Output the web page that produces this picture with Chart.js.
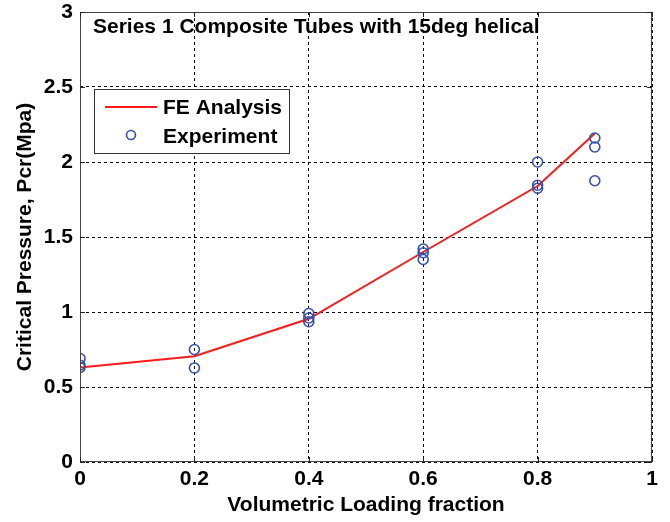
<!DOCTYPE html>
<html>
<head>
<meta charset="utf-8">
<script src="https://cdn.jsdelivr.net/npm/chart.js@4.4.1/dist/chart.umd.min.js"></script>
<style>
  html, body { margin: 0; padding: 0; background: #fff; }
  #wrap { width: 670px; height: 522px; position: relative; }
</style>
</head>
<body>
<div id="wrap"><canvas id="c" width="670" height="522"></canvas></div>
<script>
const chartTitle = 'Series 1 Composite Tubes with 15deg helical';
const xAxisTitle = 'Volumetric Loading fraction';
const yAxisTitle = 'Critical Pressure, Pcr(Mpa)';
const feLabel = 'FE Analysis';
const expLabel = 'Experiment';

const feX = [0, 0.2, 0.4, 0.6, 0.8, 0.9];
const feY = [0.63, 0.705, 0.955, 1.40, 1.84, 2.19];

const expX = [0, 0, 0, 0.2, 0.2, 0.4, 0.4, 0.4, 0.6, 0.6, 0.6, 0.8, 0.8, 0.8, 0.9, 0.9, 0.9];
const expY = [0.69, 0.645, 0.63, 0.75, 0.627, 0.99, 0.96, 0.935, 1.42, 1.395, 1.35, 2.0, 1.845, 1.825, 2.16, 2.10, 1.875];

const xTicks = [0, 0.2, 0.4, 0.6, 0.8, 1];
const yTicks = [0, 0.5, 1, 1.5, 2, 2.5, 3];

const FONT = "'Liberation Sans', Arial, sans-serif";
const FS = 21;
const RED = '#ff1a1a';
const BLUE = '#3350b0';

const feData = feX.map((x, i) => ({ x, y: feY[i] }));
const expData = expX.map((x, i) => ({ x, y: expY[i] }));

const overlay = {
  id: 'overlay',
  afterDraw(chart) {
    const { ctx, chartArea: a } = chart;
    ctx.save();
    // frame
    ctx.strokeStyle = '#444';
    ctx.lineWidth = 1;
    ctx.setLineDash([]);
    ctx.strokeRect(a.left + 0.5, a.top + 0.5, a.right - a.left - 1, a.bottom - a.top - 1);
    // small inward tick marks (MATLAB style)
    ctx.strokeStyle = '#222';
    const xs = chart.scales.x, ys = chart.scales.y;
    ctx.beginPath();
    xTicks.forEach(v => {
      const px = Math.round(xs.getPixelForValue(v)) + 0.5;
      ctx.moveTo(px, a.bottom); ctx.lineTo(px, a.bottom - 5);
      ctx.moveTo(px, a.top); ctx.lineTo(px, a.top + 5);
    });
    yTicks.forEach(v => {
      const py = Math.round(ys.getPixelForValue(v)) + 0.5;
      ctx.moveTo(a.left, py); ctx.lineTo(a.left + 5, py);
      ctx.moveTo(a.right, py); ctx.lineTo(a.right - 5, py);
    });
    ctx.stroke();
    // title inside plot
    ctx.fillStyle = '#000';
    ctx.font = 'bold ' + FS + 'px ' + FONT;
    ctx.textBaseline = 'middle';
    ctx.textAlign = 'left';
    ctx.fillText(chartTitle, a.left + 13, a.top + 15);
    // legend box
    const lx = a.left + 14, ly = a.top + 77, lw = 195, lh = 64;
    ctx.fillStyle = '#fff';
    ctx.fillRect(lx, ly, lw, lh);
    ctx.strokeStyle = '#333';
    ctx.lineWidth = 1;
    ctx.strokeRect(lx + 0.5, ly + 0.5, lw, lh);
    ctx.strokeStyle = RED;
    ctx.lineWidth = 2;
    ctx.beginPath();
    ctx.moveTo(lx + 11, ly + 18);
    ctx.lineTo(lx + 63, ly + 18);
    ctx.stroke();
    ctx.strokeStyle = BLUE;
    ctx.lineWidth = 1.6;
    ctx.beginPath();
    ctx.arc(lx + 37, ly + 46, 4.5, 0, Math.PI * 2);
    ctx.stroke();
    ctx.fillStyle = '#000';
    ctx.font = 'bold ' + FS + 'px ' + FONT;
    ctx.fillText(feLabel, lx + 69, ly + 19);
    ctx.fillText(expLabel, lx + 69, ly + 48);
    ctx.restore();
  }
};

new Chart(document.getElementById('c'), {
  type: 'scatter',
  data: {
    datasets: [
      {
        label: feLabel,
        data: feData,
        showLine: true,
        borderColor: RED,
        backgroundColor: RED,
        borderWidth: 2,
        pointRadius: 0,
        order: 2
      },
      {
        label: expLabel,
        data: expData,
        showLine: false,
        borderColor: BLUE,
        backgroundColor: 'rgba(0,0,0,0)',
        borderWidth: 1.6,
        pointRadius: 5,
        pointStyle: 'circle',
        order: 1
      }
    ]
  },
  options: {
    responsive: false,
    animation: false,
    layout: { padding: { top: 12, right: 18, left: 0, bottom: 0 } },
    plugins: {
      legend: { display: false },
      tooltip: { enabled: false },
      title: { display: false }
    },
    scales: {
      x: {
        type: 'linear',
        min: 0, max: 1,
        afterFit(s) { s.height = 60; s.paddingLeft = 0; s.paddingRight = 0; },
        afterBuildTicks(s) { s.ticks = xTicks.map(v => ({ value: v })); },
        grid: { color: '#000', lineWidth: 1, drawTicks: false },
        border: { display: false, dash: [3, 3] },
        ticks: {
          color: '#000',
          font: { family: FONT, size: FS, weight: 'bold' },
          padding: 5,
          maxRotation: 0,
          callback: v => String(v)
        },
        title: {
          display: true,
          text: xAxisTitle,
          color: '#000',
          font: { family: FONT, size: FS, weight: 'bold' },
          padding: { top: 0, bottom: 4 }
        }
      },
      y: {
        type: 'linear',
        min: 0, max: 3,
        afterFit(s) { s.width = 80; s.paddingTop = 0; s.paddingBottom = 0; },
        afterBuildTicks(s) { s.ticks = yTicks.map(v => ({ value: v })); },
        grid: { color: '#000', lineWidth: 1, drawTicks: false },
        border: { display: false, dash: [3, 3] },
        ticks: {
          color: '#000',
          font: { family: FONT, size: FS, weight: 'bold' },
          padding: 7,
          callback: v => String(v)
        },
        title: {
          display: true,
          text: yAxisTitle,
          color: '#000',
          font: { family: FONT, size: FS, weight: 'bold' },
          padding: { top: 13, bottom: 0 }
        }
      }
    }
  },
  plugins: [overlay]
});
</script>
</body>
</html>
